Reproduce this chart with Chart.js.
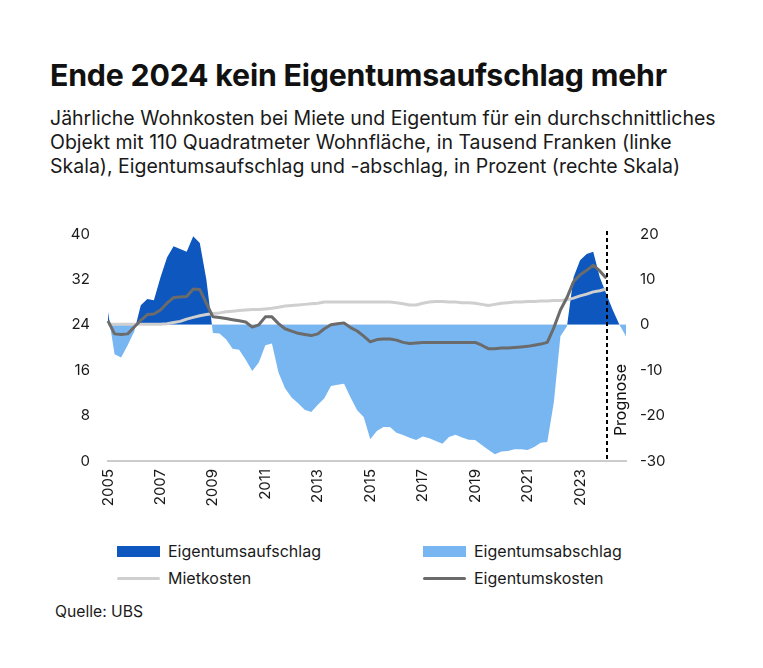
<!DOCTYPE html>
<html lang="de">
<head>
<meta charset="utf-8">
<script src="https://cdn.jsdelivr.net/npm/chart.js@4.4.1/dist/chart.umd.min.js"></script>
<style>
  html, body { margin:0; padding:0; background:#fff; }
  body { width:763px; height:668px; position:relative; overflow:hidden; font-family: Inter, "Open Sans", sans-serif; color:#111; }
  #title { position:absolute; left:50px; top:56px; font-size:30.3px; font-weight:700; line-height:38px; white-space:nowrap; letter-spacing:-0.2px; }
  #sub { position:absolute; left:50px; top:106px; font-size:19.5px; line-height:24px; white-space:nowrap; color:#1a1a1a; }
  #wrap { position:absolute; left:0; top:215px; width:763px; height:310px; }
  .leg { position:absolute; font-size:16px; line-height:18px; color:#1a1a1a; white-space:nowrap; }
  .sw { position:absolute; }
  #src { position:absolute; left:55px; top:603px; font-size:15.7px; line-height:18px; color:#1a1a1a; }
</style>
</head>
<body>
<div id="title">Ende 2024 kein Eigentumsaufschlag mehr</div>
<div id="sub">Jährliche Wohnkosten bei Miete und Eigentum für ein durchschnittliches<br>Objekt mit 110 Quadratmeter Wohnfläche, in Tausend Franken (linke<br>Skala), Eigentumsaufschlag und -abschlag, in Prozent (rechte Skala)</div>
<div id="wrap"><canvas id="c" width="763" height="310"></canvas></div>

<div class="sw" style="left:117px;top:546px;width:43px;height:11px;background:#0D57BE"></div>
<div class="leg" style="left:168px;top:542px">Eigentumsaufschlag</div>
<div class="sw" style="left:423px;top:546px;width:43px;height:11px;background:#78B6F2"></div>
<div class="leg" style="left:474px;top:542px">Eigentumsabschlag</div>
<div class="sw" style="left:117px;top:577px;width:43px;height:3px;background:#CFCFCF;border-radius:2px"></div>
<div class="leg" style="left:168px;top:569px">Mietkosten</div>
<div class="sw" style="left:423px;top:577px;width:43px;height:3px;background:#6B6B6B;border-radius:2px"></div>
<div class="leg" style="left:474px;top:569px">Eigentumskosten</div>
<div id="src">Quelle: UBS</div>

<script>
const categories = [
 "2005 Q1","2005 Q2","2005 Q3","2005 Q4","2006 Q1","2006 Q2","2006 Q3","2006 Q4",
 "2007 Q1","2007 Q2","2007 Q3","2007 Q4","2008 Q1","2008 Q2","2008 Q3","2008 Q4",
 "2009 Q1","2009 Q2","2009 Q3","2009 Q4","2010 Q1","2010 Q2","2010 Q3","2010 Q4",
 "2011 Q1","2011 Q2","2011 Q3","2011 Q4","2012 Q1","2012 Q2","2012 Q3","2012 Q4",
 "2013 Q1","2013 Q2","2013 Q3","2013 Q4","2014 Q1","2014 Q2","2014 Q3","2014 Q4",
 "2015 Q1","2015 Q2","2015 Q3","2015 Q4","2016 Q1","2016 Q2","2016 Q3","2016 Q4",
 "2017 Q1","2017 Q2","2017 Q3","2017 Q4","2018 Q1","2018 Q2","2018 Q3","2018 Q4",
 "2019 Q1","2019 Q2","2019 Q3","2019 Q4","2020 Q1","2020 Q2","2020 Q3","2020 Q4",
 "2021 Q1","2021 Q2","2021 Q3","2021 Q4","2022 Q1","2022 Q2","2022 Q3","2022 Q4",
 "2023 Q1","2023 Q2","2023 Q3","2023 Q4","2024 Q1","2024 Q2","2024 Q3","2024 Q4"
];
const tickYears = ["2005","2007","2009","2011","2013","2015","2017","2019","2021","2023"];
const leftTicks = [0, 8, 16, 24, 32, 40];
const rightTicks = [-30, -20, -10, 0, 10, 20];
const prognoseStart = "2024 Q1";

// Eigentumsaufschlag (+) / -abschlag (-), in Prozent (rechte Skala)
const premium = [
  2.8,-6.5,-7.2,-4.5,-1.5, 4.3, 5.7, 5.4,10.4,14.8,
 17.3,16.7,16.1,19.5,18.0,10.0,-1.8,-1.9,-3.2,-5.3,
 -5.5,-7.7,-10.2,-8.3,-4.5,-4.1,-10.5,-14.0,-16.0,-17.3,
 -18.7,-19.2,-17.6,-16.2,-13.5,-13.2,-13.0,-16.0,-18.8,-20.3,
 -25.2,-23.4,-22.5,-22.5,-23.8,-24.3,-24.9,-25.4,-24.6,-25.0,
 -25.6,-26.2,-24.7,-24.2,-24.8,-25.3,-25.4,-26.5,-27.5,-28.5,
 -27.9,-27.8,-27.4,-27.4,-27.6,-26.9,-26.0,-25.8,-17.0,-2.5,
 -0.3,10.5,14.2,15.6,16.1,10.5, 6.8, 3.2, 0.0,-2.5
];
// Mietkosten, Tausend Franken (linke Skala)
const rentCosts = [
 24.1,24.1,24.1,24.1,24.1,24.1,24.1,24.1,24.1,24.2,
 24.4,24.6,25.0,25.3,25.6,25.8,26.0,26.1,26.3,26.4,
 26.5,26.6,26.7,26.7,26.8,26.9,27.1,27.3,27.4,27.5,
 27.6,27.7,27.8,28.0,28.0,28.0,28.0,28.0,28.0,28.0,
 28.0,28.0,28.0,28.0,27.9,27.7,27.5,27.5,27.8,28.0,
 28.1,28.1,28.0,28.0,27.9,27.9,27.8,27.6,27.4,27.6,
 27.8,27.9,28.0,28.0,28.1,28.1,28.2,28.2,28.3,28.3,
 28.4,28.7,29.1,29.4,29.8,30.0,30.3,null,null,null
];
// Eigentumskosten, Tausend Franken (linke Skala)
const ownCosts = [
 24.7,22.4,22.3,22.4,23.6,24.8,25.8,25.9,26.6,27.8,
 28.8,28.9,29.0,30.3,30.2,27.8,25.4,25.3,25.1,24.9,
 24.7,24.5,23.6,24.0,25.4,25.4,24.2,23.3,22.9,22.5,
 22.3,22.1,22.4,23.3,24.0,24.2,24.3,23.5,22.9,22.0,
 21.0,21.4,21.5,21.5,21.3,20.9,20.7,20.8,20.9,20.9,
 20.9,20.9,20.9,20.9,20.9,20.9,20.9,20.4,19.8,19.8,
 19.9,19.9,20.0,20.1,20.2,20.4,20.6,20.9,23.5,26.6,
 28.8,31.6,32.8,33.6,34.5,33.5,32.2,null,null,null
];

const FONT = "Inter, 'Open Sans', sans-serif";

const prognosePlugin = {
  id: 'prognose',
  afterDatasetsDraw(chart) {
    const x = Math.round(chart.scales.x.getPixelForValue(categories.indexOf(prognoseStart))) + 1;
    const ctx = chart.ctx;
    const bottom = chart.chartArea.bottom + 1;
    ctx.save();
    ctx.strokeStyle = '#000';
    ctx.lineWidth = 2;
    ctx.setLineDash([4, 3]);
    ctx.beginPath();
    ctx.moveTo(x, chart.chartArea.top - 3);
    ctx.lineTo(x, bottom);
    ctx.stroke();
    ctx.setLineDash([]);
    ctx.translate(x + 14, chart.chartArea.top + 166);
    ctx.rotate(-Math.PI / 2);
    ctx.font = "16px " + FONT;
    ctx.fillStyle = '#111';
    ctx.textAlign = 'center';
    ctx.textBaseline = 'middle';
    ctx.fillText('Prognose', 0, 0);
    ctx.restore();
  }
};

new Chart(document.getElementById('c'), {
  type: 'line',
  data: {
    labels: categories,
    datasets: [
      { label: 'Eigentumskosten', data: ownCosts, yAxisID: 'y', borderColor: '#6B6B6B', borderWidth: 3,
        pointRadius: 0, tension: 0, fill: false, order: 1, borderJoinStyle: 'round' },
      { label: 'Mietkosten', data: rentCosts, yAxisID: 'y', borderColor: '#CFCFCF', borderWidth: 3,
        pointRadius: 0, tension: 0, fill: false, order: 2, borderJoinStyle: 'round' },
      { label: 'Eigentumsaufschlag / -abschlag', data: premium, yAxisID: 'y1', borderColor: 'rgba(0,0,0,0)', borderWidth: 0,
        pointRadius: 0, tension: 0, order: 3,
        fill: { target: 'origin', above: '#0D57BE', below: '#78B6F2' } }
    ]
  },
  options: {
    responsive: false,
    animation: false,
    layout: { padding: { top: 7, left: 0, right: 0, bottom: 0 } },
    plugins: { legend: { display: false }, tooltip: { enabled: false } },
    scales: {
      x: {
        type: 'category',
        offset: false,
        grid: { display: false },
        border: { display: true, color: '#CCCCCC', width: 2 },
        ticks: {
          autoSkip: false, minRotation: 90, maxRotation: 90, padding: 0,
          color: '#1a1a1a', font: { size: 15, family: FONT },
          callback: function(v, i) {
            const c = categories[i];
            const yr = c.slice(0, 4);
            return (c.endsWith('Q1') && tickYears.includes(yr)) ? yr : null;
          }
        },
        afterFit(s) { s.height = 64; }
      },
      y: {
        position: 'left', min: leftTicks[0], max: leftTicks[leftTicks.length - 1],
        grid: { display: false }, border: { display: false },
        afterBuildTicks(s) { s.ticks = leftTicks.map(v => ({ value: v })); },
        ticks: { padding: 10, color: '#1a1a1a', font: { size: 15, family: FONT } },
        afterFit(s) { s.width = 108; }
      },
      y1: {
        position: 'right', min: rightTicks[0], max: rightTicks[rightTicks.length - 1],
        grid: { display: false }, border: { display: false },
        afterBuildTicks(s) { s.ticks = rightTicks.map(v => ({ value: v })); },
        ticks: { padding: 6, color: '#1a1a1a', font: { size: 15, family: FONT } },
        afterFit(s) { s.width = 137; }
      }
    }
  },
  plugins: [prognosePlugin]
});
</script>
</body>
</html>
